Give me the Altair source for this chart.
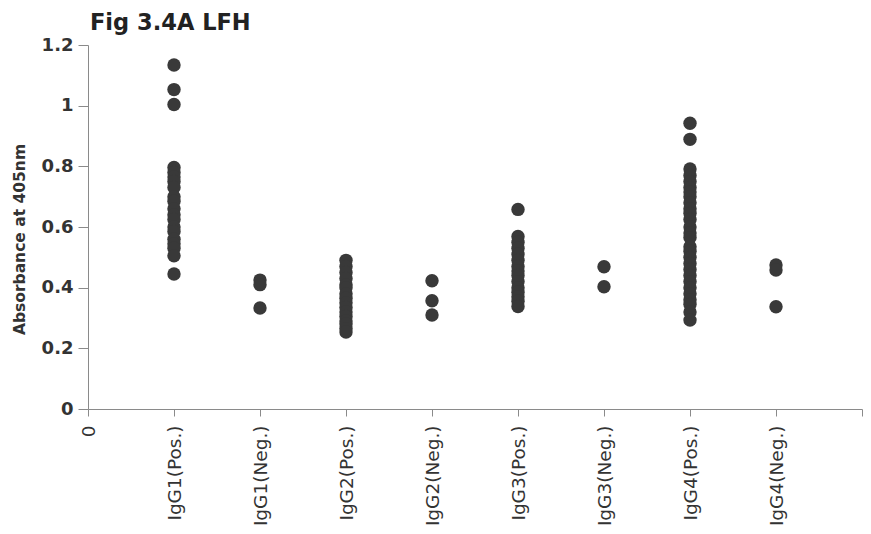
import altair as alt
import pandas as pd

# Subclass groups, in axis order (positions 1..8)
groups = [
    "IgG1(Pos.)", "IgG1(Neg.)", "IgG2(Pos.)", "IgG2(Neg.)",
    "IgG3(Pos.)", "IgG3(Neg.)", "IgG4(Pos.)", "IgG4(Neg.)",
]

# Absorbance at 405 nm for each serum, per group
igg1_pos = [1.134, 1.053, 1.004, 0.796, 0.78, 0.765, 0.75, 0.73, 0.70, 0.685,
            0.66, 0.64, 0.625, 0.60, 0.585, 0.56, 0.545, 0.53, 0.505, 0.445]
igg1_neg = [0.425, 0.41, 0.333]
igg2_pos = [0.49, 0.47, 0.45, 0.43, 0.41, 0.40, 0.38, 0.365, 0.35, 0.335,
            0.32, 0.305, 0.29, 0.28, 0.265, 0.254]
igg2_neg = [0.423, 0.357, 0.31]
igg3_pos = [0.658, 0.569, 0.55, 0.53, 0.51, 0.49, 0.47, 0.455, 0.44, 0.42,
            0.40, 0.385, 0.37, 0.355, 0.338]
igg3_neg = [0.469, 0.403]
igg4_pos = [0.942, 0.889, 0.791, 0.77, 0.75, 0.73, 0.715, 0.70, 0.68, 0.66,
            0.645, 0.625, 0.60, 0.58, 0.565, 0.535, 0.52, 0.50, 0.48, 0.46,
            0.44, 0.42, 0.40, 0.38, 0.36, 0.345, 0.32, 0.293]
igg4_neg = [0.475, 0.458, 0.337]

series = [igg1_pos, igg1_neg, igg2_pos, igg2_neg,
          igg3_pos, igg3_neg, igg4_pos, igg4_neg]

fig_title = "Fig 3.4A LFH"

rows = []
for pos, (name, vals) in enumerate(zip(groups, series), start=1):
    for v in vals:
        rows.append({"pos": pos, "group": name, "absorbance": v})
df = pd.DataFrame(rows)

label_list = "[" + ",".join("'" + g + "'" for g in groups) + "]"
x_label_expr = (
    "datum.value == 0 ? '0' : (datum.value <= 8 ? "
    + label_list + "[datum.value - 1] : '')"
)

dots = alt.Chart(df).mark_circle(size=180, color="#393939", opacity=1).encode(
    x=alt.X(
        "pos:Q",
        scale=alt.Scale(domain=[0, 9], nice=False, zero=True),
        axis=alt.Axis(
            values=list(range(0, 10)),
            labelExpr=x_label_expr,
            labelAngle=-90,
            labelAlign="right",
            labelBaseline="middle",
            labelFont="DejaVu Sans",
            labelFontSize=18.5,
            labelColor="#333333",
            labelPadding=9,
            tickSize=7,
            tickColor="#8a8a8a",
            domainColor="#8a8a8a",
            title=None,
            grid=False,
            labelOverlap=False,
        ),
    ),
    y=alt.Y(
        "absorbance:Q",
        scale=alt.Scale(domain=[0, 1.2], nice=False),
        axis=alt.Axis(
            values=[0, 0.2, 0.4, 0.6, 0.8, 1.0, 1.2],
            format="~g",
            labelFont="DejaVu Sans",
            labelFontSize=18,
            labelFontWeight="bold",
            labelColor="#333333",
            labelPadding=5,
            tickSize=10,
            tickColor="#8a8a8a",
            domainColor="#8a8a8a",
            grid=False,
            title="Absorbance at 405nm",
            titleFont="DejaVu Sans",
            titleFontSize=15.5,
            titleFontWeight="bold",
            titleColor="#333333",
            titleAngle=-90,
            titleAlign="center",
            titleBaseline="middle",
            titleX=-69,
            titleY=194,
        ),
    ),
)

# Figure heading drawn as a text mark just above the plot's top-left corner
heading = alt.Chart(pd.DataFrame({"t": [fig_title]})).mark_text(
    font="DejaVu Sans",
    fontSize=22.5,
    fontWeight="bold",
    color="#222222",
    align="left",
    baseline="alphabetic",
).encode(text="t:N", x=alt.value(2), y=alt.value(-15))

chart = (
    alt.layer(dots, heading)
    .properties(
        width=774,
        height=364,
        autosize=alt.AutoSizeParams(type="none"),
        padding={"left": 88, "top": 45, "right": 9, "bottom": 125},
    )
    .configure(background="white")
    .configure_view(strokeWidth=0, stroke="transparent")
)

chart.save("out.html", embed_options={"renderer": "svg", "actions": False})
